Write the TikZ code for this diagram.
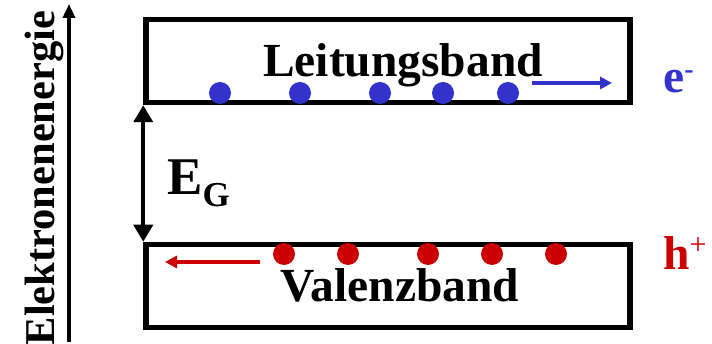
\documentclass[tikz,border=0pt]{standalone}
\usepackage{fontspec}
\setmainfont{Liberation Serif}
\usetikzlibrary{arrows.meta, positioning}

\definecolor{eblue}{HTML}{3333CC}
\definecolor{hred}{HTML}{CC0000}

\begin{document}
\begin{tikzpicture}[
  x=1pt, y=-1pt,
  >=Triangle,
% 1. Band boxes with heavy black frame
  band/.style={
    draw,
    rectangle,
    line width=5.5pt,
    minimum width=484pt,
    minimum height=83pt,
    inner sep=0pt
  },
% 2. Charge carriers
  elektron/.style={
    circle,
    fill=eblue,
    minimum size=22pt,
    inner sep=0pt
  },
  loch/.style={
    elektron,
    fill=hred
  },
% 3. Labels
  label_font/.style={
    font=\fontsize{47.5}{47.5}\selectfont\bfseries,
    anchor=base,
    inner sep=0pt
  },
  drift/.style={
    line width=4pt,
    -{Triangle[width=12pt,length=12pt]}
  }
]
  \useasboundingbox (0,0) rectangle (712,344);

  % Bands
  \node[band] (leit) at (388,61) {};
  \node[band] (val) at (388,286) {};
  \node[label_font] (leittext) at (403,77) {Leitungsband};
  \node[label_font] (valtext) at (400,302) {Valenzband};

  % Electrons in the conduction band
  \foreach \x [count=\i] in {220,300,380,443,508}
    \node[elektron] (e\i) at (\x,93) {};
  % Holes in the valence band
  \foreach \x [count=\i] in {284,348,428,492,556}
    \node[loch] (h\i) at (\x,254) {};

  % Drift arrows
  \coordinate (eanf) at (532,83);
  \coordinate (eend) at (612,83);
  \coordinate (hanf) at (260,262);
  \coordinate (hend) at (165,262);
  \draw[drift, draw=eblue, fill=eblue] (eanf) -- (eend);
  \draw[drift, draw=hred, fill=hred] (hanf) -- (hend);

  % Carrier labels
  \node[label_font, anchor=base west, text=eblue] (elab) at (663,93)
    {e\raisebox{14pt}{\fontsize{28}{28}\selectfont -}};
  \node[label_font, anchor=base west, text=hred] (hlab) at (663,270)
    {h\raisebox{15pt}{\fontsize{30}{30}\mdseries\selectfont +}};

  % Band gap
  \draw[line width=4pt, {Triangle[width=19pt,length=17pt]}-{Triangle[width=19pt,length=17pt]}]
    (leit.south west) -- (val.north west);
  \node[anchor=base west, inner sep=0pt] (eg) at (167,195)
    {\bfseries\fontsize{53}{53}\selectfont E\raisebox{-12pt}{\fontsize{35}{35}\selectfont G}};

  % Energy axis
  \coordinate (aunten) at (69,342);
  \coordinate (aoben) at (69,4);
  \draw[line width=4pt, -{Triangle[width=12pt,length=14pt]}] (aunten) -- (aoben);
  \node[label_font, font=\fontsize{42.5}{42.5}\selectfont\bfseries, rotate=90] (achse) at (54,178) {Elektronenenergie};

\end{tikzpicture}
\end{document}
